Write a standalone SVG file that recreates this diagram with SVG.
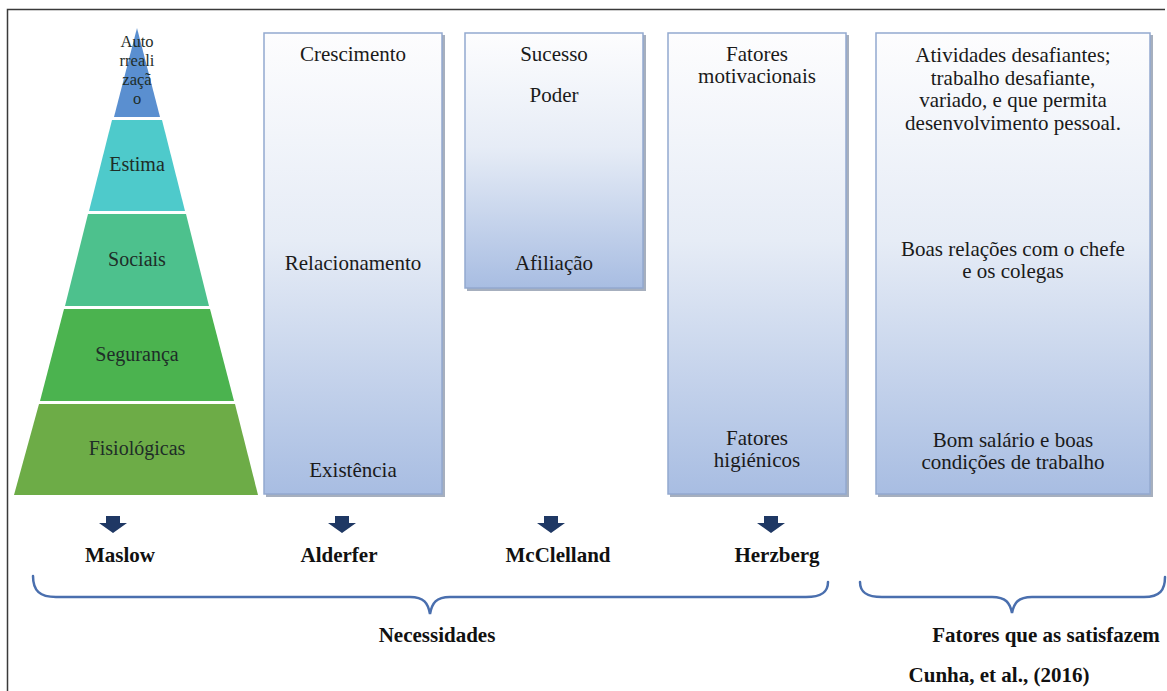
<svg xmlns="http://www.w3.org/2000/svg" width="1167" height="691" viewBox="0 0 1167 691">
  <defs>
    <linearGradient id="boxGrad" x1="0" y1="0" x2="0" y2="1">
      <stop offset="0" stop-color="#fdfdfe"/>
      <stop offset="0.45" stop-color="#e6ecf6"/>
      <stop offset="1" stop-color="#a8bde2"/>
    </linearGradient>
    <path id="arrow" d="M -7,0 H 7 V 7 H 14 L 0,17 L -14,7 H -7 Z" fill="#1f3864"/>
  </defs>
  <style>
    .frame { stroke: #3a3a3a; stroke-width: 1.5; fill: none; }
    .box { fill: url(#boxGrad); stroke: #93a9cf; stroke-width: 1.5; }
    .shadow { fill: #8894a8; opacity: 0.75; }
    text { font-family: 'Liberation Serif', 'Times New Roman', 'DejaVu Serif', serif; }
    .lvl { font-size: 20px; fill: #1e2d28; text-anchor: middle; }
    .top { font-size: 16.5px; fill: #1e2d28; text-anchor: middle; }
    .bt { font-size: 21px; fill: #1a1a1a; text-anchor: middle; }
    .lab { font-size: 21px; font-weight: bold; fill: #111; text-anchor: middle; }
    .brace { fill: none; stroke: #4a6fae; stroke-width: 2.5; stroke-linecap: round; }
  </style>
  <rect x="0" y="0" width="1167" height="691" fill="#ffffff"/>
  <path class="frame" d="M 7.5,691 V 9.5 H 1165"/>

  <g id="maslow-pyramid">
    <g id="level-autorrealizacao">
      <polygon points="137,28 160,117 114,117" fill="#5a8fd0"/>
      <text class="top" x="137" y="47">Auto</text>
      <text class="top" x="137" y="66">rreali</text>
      <text class="top" x="137" y="85">zaçã</text>
      <text class="top" x="137" y="104">o</text>
    </g>
    <g id="level-estima">
      <polygon points="112,120 162,120 185,211 89,211" fill="#4ecacb"/>
      <text class="lvl" x="137" y="171">Estima</text>
    </g>
    <g id="level-sociais">
      <polygon points="88,214 186,214 209,306 65,306" fill="#4dc18d"/>
      <text class="lvl" x="137" y="266">Sociais</text>
    </g>
    <g id="level-seguranca">
      <polygon points="64,309 210,309 234,401 40,401" fill="#4bb34f"/>
      <text class="lvl" x="137" y="361">Segurança</text>
    </g>
    <g id="level-fisiologicas">
      <polygon points="39,404 235,404 258,495 14,495" fill="#6dac47"/>
      <text class="lvl" x="137" y="455">Fisiológicas</text>
    </g>
  </g>

  <g id="alderfer-box">
    <rect class="shadow" x="266" y="35" width="179" height="462"/>
    <rect class="box" x="264" y="33" width="178" height="461"/>
    <text class="bt" x="353" y="61">Crescimento</text>
    <text class="bt" x="353" y="270">Relacionamento</text>
    <text class="bt" x="353" y="477">Existência</text>
  </g>

  <g id="mcclelland-box">
    <rect class="shadow" x="467" y="35" width="179" height="256"/>
    <rect class="box" x="465" y="33" width="178" height="255"/>
    <text class="bt" x="554" y="61">Sucesso</text>
    <text class="bt" x="554" y="102">Poder</text>
    <text class="bt" x="554" y="270">Afiliação</text>
  </g>

  <g id="herzberg-box">
    <rect class="shadow" x="670" y="35" width="179" height="462"/>
    <rect class="box" x="668" y="33" width="178" height="461"/>
    <text class="bt" x="757" y="61">Fatores</text>
    <text class="bt" x="757" y="83">motivacionais</text>
    <text class="bt" x="757" y="445">Fatores</text>
    <text class="bt" x="757" y="467">higiénicos</text>
  </g>

  <g id="fatores-box">
    <rect class="shadow" x="878" y="35" width="275" height="462"/>
    <rect class="box" x="876" y="33" width="274" height="461"/>
    <text class="bt" x="1013" y="62">Atividades desafiantes;</text>
    <text class="bt" x="1013" y="85">trabalho desafiante,</text>
    <text class="bt" x="1013" y="107">variado, e que permita</text>
    <text class="bt" x="1013" y="130">desenvolvimento pessoal.</text>
    <text class="bt" x="1013" y="256">Boas relações com o chefe</text>
    <text class="bt" x="1013" y="278">e os colegas</text>
    <text class="bt" x="1013" y="447">Bom salário e boas</text>
    <text class="bt" x="1013" y="469">condições de trabalho</text>
  </g>

  <g id="connectors">
    <use href="#arrow" x="113" y="516"/>
    <use href="#arrow" x="342" y="516"/>
    <use href="#arrow" x="551" y="516"/>
    <use href="#arrow" x="771" y="516"/>
    <path class="brace" d="M 33,576 C 33,591 40,597 56,597 L 410,597 C 424,597 428,603 430,614 C 432,603 436,597 450,597 L 806,597 C 822,597 828,592 828,582"/>
    <path class="brace" d="M 860,582 C 860,592 866,597 882,597 L 992,597 C 1006,597 1010,603 1012,613 C 1014,603 1018,597 1032,597 L 1144,597 C 1160,597 1165,590 1165,577"/>
  </g>

  <g id="theory-labels">
    <text class="lab" x="120" y="562">Maslow</text>
    <text class="lab" x="339" y="562">Alderfer</text>
    <text class="lab" x="558" y="562">McClelland</text>
    <text class="lab" x="777" y="562">Herzberg</text>
  </g>
  <g id="group-labels">
    <text class="lab" x="437" y="642">Necessidades</text>
    <text class="lab" x="1046" y="642">Fatores que as satisfazem</text>
    <text class="lab" x="999" y="682">Cunha, et al., (2016)</text>
  </g>
</svg>
